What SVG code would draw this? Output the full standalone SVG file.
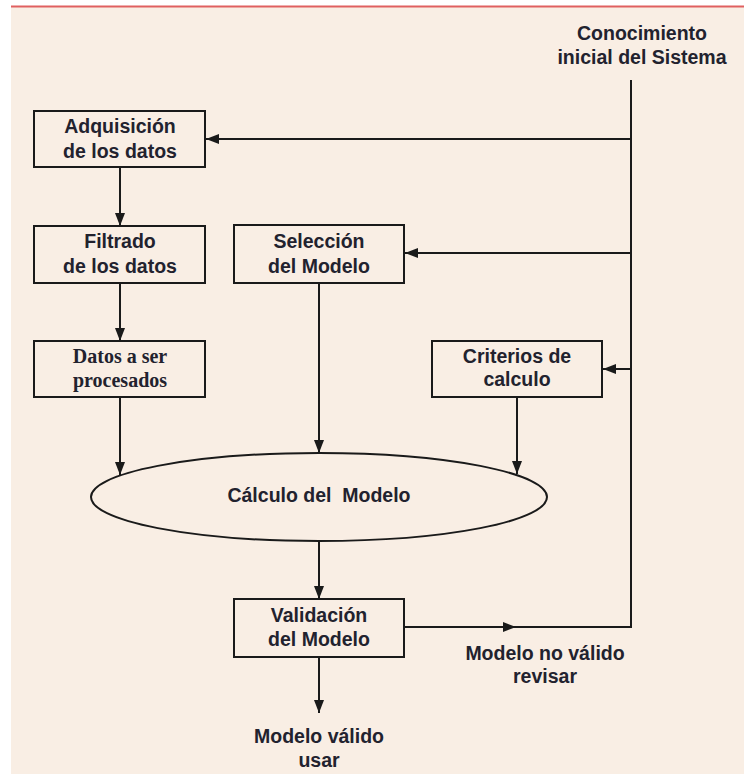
<svg xmlns="http://www.w3.org/2000/svg" width="744" height="775" viewBox="0 0 744 775">
  <style>
    .box { fill: none; stroke: #1a1a1a; stroke-width: 2; }
    .wire { fill: none; stroke: #1a1a1a; stroke-width: 2; }
    .lbl { font-family: "Liberation Sans", Arial, sans-serif; font-weight: bold; font-size: 19.5px; fill: #22222e; text-anchor: middle; }
    .serif { font-family: "Liberation Serif", "Times New Roman", serif; font-weight: bold; font-size: 20px; fill: #22222e; text-anchor: middle; }
  </style>
  <defs>
    <marker id="arrow" markerUnits="userSpaceOnUse" markerWidth="14" markerHeight="12" viewBox="0 0 14 12" refX="13" refY="6" orient="auto">
      <path d="M0,1 L13,6 L0,11 Z" fill="#1a1a1a"/>
    </marker>
  </defs>

  <!-- page -->
  <rect x="0" y="0" width="744" height="775" fill="#ffffff"/>
  <rect x="11" y="7" width="733" height="767" fill="#f9eee4"/>
  <line x1="11" y1="6.5" x2="744" y2="6.5" stroke="#e06060" stroke-width="2"/>

  <g id="conocimiento">
    <text class="lbl" x="642" y="40">Conocimiento</text>
    <text class="lbl" x="642" y="64">inicial del Sistema</text>
  </g>

  <g id="adquisicion">
    <rect class="box" x="34" y="111" width="171" height="56"/>
    <text class="lbl" x="120" y="133">Adquisición</text>
    <text class="lbl" x="120" y="158">de los datos</text>
  </g>

  <g id="filtrado">
    <rect class="box" x="34" y="226" width="171" height="57"/>
    <text class="lbl" x="120" y="248">Filtrado</text>
    <text class="lbl" x="120" y="273">de los datos</text>
  </g>

  <g id="seleccion">
    <rect class="box" x="234" y="225" width="170" height="58"/>
    <text class="lbl" x="319" y="248">Selección</text>
    <text class="lbl" x="319" y="273">del Modelo</text>
  </g>

  <g id="datos">
    <rect class="box" x="34" y="341" width="171" height="56"/>
    <text class="serif" x="120" y="363">Datos a ser</text>
    <text class="serif" x="120" y="387">procesados</text>
  </g>

  <g id="criterios">
    <rect class="box" x="432" y="341" width="170" height="56"/>
    <text class="lbl" x="517" y="363">Criterios de</text>
    <text class="lbl" x="517" y="386">calculo</text>
  </g>

  <g id="calculo">
    <ellipse class="box" cx="319" cy="497" rx="228" ry="44"/>
    <text class="lbl" x="319" y="502" xml:space="preserve">Cálculo del  Modelo</text>
  </g>

  <g id="validacion">
    <rect class="box" x="234" y="599" width="170" height="58"/>
    <text class="lbl" x="319" y="622">Validación</text>
    <text class="lbl" x="319" y="646">del Modelo</text>
  </g>

  <g id="valido">
    <text class="lbl" x="319" y="743">Modelo válido</text>
    <text class="lbl" x="319" y="767">usar</text>
  </g>

  <g id="no-valido">
    <text class="lbl" x="545" y="660">Modelo no válido</text>
    <text class="lbl" x="545" y="683">revisar</text>
  </g>

  <g id="connectors">
    <!-- feedback trunk -->
    <polyline class="wire" points="404,627 631,627 631,80"/>
    <line class="wire" x1="404" y1="627" x2="516" y2="627" marker-end="url(#arrow)"/>
    <line class="wire" x1="631" y1="139" x2="206" y2="139" marker-end="url(#arrow)"/>
    <line class="wire" x1="631" y1="253" x2="405" y2="253" marker-end="url(#arrow)"/>
    <line class="wire" x1="631" y1="369" x2="603" y2="369" marker-end="url(#arrow)"/>
    <!-- main flow -->
    <line class="wire" x1="120" y1="167" x2="120" y2="226" marker-end="url(#arrow)"/>
    <line class="wire" x1="120" y1="283" x2="120" y2="341" marker-end="url(#arrow)"/>
    <line class="wire" x1="120" y1="397" x2="120" y2="475" marker-end="url(#arrow)"/>
    <line class="wire" x1="319" y1="283" x2="319" y2="453" marker-end="url(#arrow)"/>
    <line class="wire" x1="517" y1="397" x2="517" y2="474" marker-end="url(#arrow)"/>
    <line class="wire" x1="319" y1="541" x2="319" y2="599" marker-end="url(#arrow)"/>
    <line class="wire" x1="319" y1="657" x2="319" y2="713" marker-end="url(#arrow)"/>
  </g>
</svg>
